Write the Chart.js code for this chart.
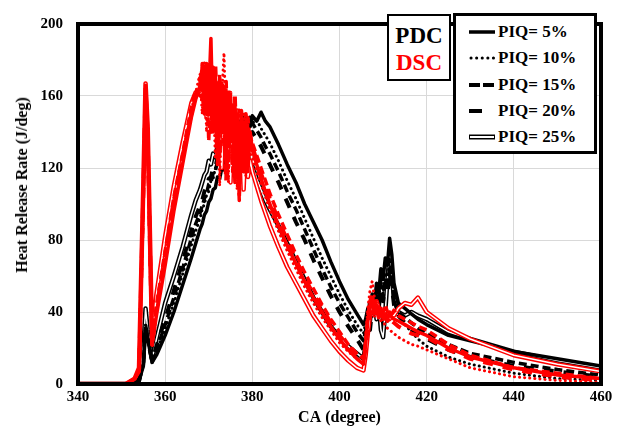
<!DOCTYPE html>
<html lang="en">
<head>
<meta charset="UTF-8">
<title>Heat Release Rate</title>
<script src="https://cdn.jsdelivr.net/npm/chart.js"></script>
<style>
  body { margin: 0; background: #fff; }
  .wrap { position: relative; width: 620px; height: 436px; }
  .box {
    position: absolute; background: #fff; border: 2px solid #000; box-sizing: border-box;
    font-family: 'Liberation Serif', 'Times New Roman', serif; font-weight: bold;
  }
  #srcBox { left: 387px; top: 14px; width: 64px; height: 67px; font-size: 23px; line-height: 27px; text-align: center; padding-top: 6px; }
  #piqBox { left: 453px; top: 13px; width: 144px; height: 141px; border-width: 3px; padding-top: 3px; font-size: 17px; }
  .row { display: flex; align-items: center; height: 26.3px; }
  .row svg { margin-left: 13px; margin-right: 1px; }
  #yTitle {
    position: absolute; left: 22px; top: 185px; white-space: nowrap;
    transform: translate(-50%, -50%) rotate(-90deg);
    font-family: 'Liberation Serif', 'Times New Roman', serif; font-weight: bold; font-size: 16px; color: #000;
  }
</style>
</head>
<body>
<div class="wrap">
  <canvas id="hrr" width="620" height="436"></canvas>
  <div id="yTitle">Heat Release Rate (J/deg)</div>
  <div class="box" id="srcBox"><div style="color:#000">PDC</div><div style="color:#ff0000">DSC</div></div>
  <div class="box" id="piqBox"></div>
</div>
<script>
// crank angle grid (deg) shared by all curves
const ca = [340, 351, 353, 354, 355, 355.5, 356, 357, 358, 360, 362, 364, 366, 367, 368,
  368.5, 369, 369.5, 370, 370.5, 371, 371.5, 372, 372.5, 373, 373.5, 374, 374.5, 375, 375.5,
  376, 376.5, 377, 377.5, 378, 378.5, 379, 379.5, 380, 381, 382, 383, 384, 386, 388,
  390, 392, 394, 396, 398, 400, 402, 404,
  405.5, 406, 406.5, 407, 407.5, 408, 408.5, 409, 409.5, 410, 410.5, 411, 411.5, 412, 412.5,
  413.5, 415, 416.5, 418, 420, 425, 430, 440, 450, 460];

// PDC (black)
const pdc5 = [0,0,1,2,10, 30,25,12,16,27, 40,55,70,78,86, 89,94,96,101,103, 108,109,115,114,120,
  119,125,124,131,129, 135,133,139,137,143, 140,146,143,149,146, 151,146,143,133,122,
  112,100,90,80,68, 57,47,39,
  33,36,42,38,50,44,56,50,64,58,70,66,81,72,56,
  45,42,39,36,33,27,24,18,14,10];
const pdc10 = [0,0,1,2,12, 34,27,13,18,31, 45,61,77,85,92, 97,100,105,107,113, 114,120,121,126,127,
  132,131,136,135,140, 138,143,140,146,142, 148,144,149,145,147, 142,138,134,124,113,
  103,92,81,70,60, 50,41,33,
  28,34,40,36,48,42,52,47,58,50,62,55,70,62,48,
  38,33,29,25,21,15,11,6,3,2];
const pdc15 = [0,0,1,2,11, 33,26,12,19,33, 48,64,81,89,95, 99,103,106,111,112, 117,118,124,124,129,
  130,134,135,139,139, 143,142,146,144,148, 144,147,143,145,141, 137,132,128,118,107,
  97,86,75,64,54, 45,37,29,
  24,30,36,33,44,40,50,44,55,48,58,52,66,58,46,
  40,37,34,31,28,22,17,12,8,5];
const pdc20 = [0,0,1,2,11, 32,24,13,21,36, 52,68,85,93,99, 102,107,109,114,115, 120,120,126,125,131,
  130,135,134,139,137, 141,139,143,140,144, 140,143,139,140,136, 132,127,122,112,101,
  90,80,69,59,49, 40,32,25,
  19,26,33,30,42,38,47,42,52,46,56,50,62,54,44,
  38,34,30,28,25,19,15,10,7,4];
const pdc25 = [0,0,1,2,20, 42,30,14,25,45, 60,76,94,102,108, 112,116,118,124,122, 128,126,132,128,134,
  130,136,131,137,130, 136,128,134,126,131, 122,127,118,121,114, 108,102,97,88,78,
  68,58,48,40,32, 26,21,17,
  14,22,32,45,38,48,36,44,30,26,40,58,72,60,48,
  40,38,40,38,36,29,25,18,13,9];

// DSC (red)
const dsc5 = [0,0,3,8,110, 166,140,22,38,66, 96,122,148,158,166, 176,150,178,160,192, 140,172,125,168,140,
  165,118,160,135,155, 112,150,105,148,122, 146,118,140,130,122, 114,107,100,88,77,
  67,57,48,40,32, 25,19,14,
  11,22,35,44,48,40,44,39,42,37,39,36,40,37,36,
  35,33,31,29,27,20,15,9,5,3];
const dsc10 = [0,0,3,7,100, 160,130,20,40,70, 100,125,152,162,172, 150,176,140,174,155, 170,125,168,110,160,
  184,138,112,158,130, 152,108,146,125,150, 115,142,128,126,118, 111,104,97,85,74,
  64,54,45,37,30, 23,18,14,
  12,26,42,52,57,48,44,38,35,34,33,31,30,29,28,
  26,24,22,21,19,14,9,4,2,1];
const dsc15 = [0,0,3,8,105, 163,135,24,44,74, 104,128,154,163,160, 178,158,172,135,170, 176,150,122,172,150,
  132,168,120,162,118, 158,135,102,152,138, 120,148,132,134,127, 120,113,106,94,83,
  72,62,53,44,36, 29,22,17,
  14,24,38,46,50,42,46,41,43,40,44,40,41,39,41,
  38,36,34,32,30,22,16,9,6,3];
const dsc20 = [0,0,3,7,108, 165,138,21,42,72, 102,126,150,160,170, 158,178,150,172,140, 168,178,145,125,170,
  140,112,165,145,122, 160,115,152,130,118, 150,128,138,132,124, 117,110,103,91,80,
  69,59,50,42,34, 27,21,16,
  13,20,32,40,45,38,42,37,40,36,37,35,38,35,34,
  32,30,28,27,26,19,14,8,4,2];
const dsc25 = [0,0,3,9,112, 167,142,25,50,82, 110,134,156,162,163, 170,174,148,170,158, 145,168,160,135,120,
  162,150,130,112,150, 128,152,118,142,108, 138,115,124,118,110, 102,95,88,76,65,
  56,47,38,31,24, 18,13,9,
  7.5,16,28,38,45,40,46,42,40,37,38,36,36,38,38,
  42,45,44,48,40,31,25,16,11,7];

const piqLabels = ['PIQ= 5%', 'PIQ= 10%', 'PIQ= 15%', 'PIQ= 20%', 'PIQ= 25%'];
const pdcSeries = [pdc5, pdc10, pdc15, pdc20, pdc25];
const dscSeries = [dsc5, dsc10, dsc15, dsc20, dsc25];

const lineStyles = [
  { borderWidth: 3.5, borderDash: [] },
  { borderWidth: 3, borderDash: [0.1, 5], borderCapStyle: 'round' },
  { borderWidth: 3.5, borderDash: [8, 4] },
  { borderWidth: 4, borderDash: [10, 10] },
  { borderWidth: 4.5, borderDash: [], double: true }
];

function pts(vals) {
  return vals.map((v, i) => ({ x: ca[i], y: v }));
}

var datasets = [];
function addGroup(series, color, baseOrder) {
  series.forEach((vals, i) => {
    var st = lineStyles[i];
    datasets.push({
      label: piqLabels[i],
      data: pts(vals),
      borderColor: color,
      borderWidth: st.borderWidth,
      borderDash: st.borderDash,
      borderCapStyle: st.borderCapStyle || 'butt',
      borderJoinStyle: 'round',
      pointRadius: 0,
      tension: 0,
      order: baseOrder + i * 2 + 1
    });
    if (st.double) {
      datasets.push({
        label: piqLabels[i] + ' core',
        data: pts(vals),
        borderColor: '#ffffff',
        borderWidth: 1.5,
        borderJoinStyle: 'round',
        pointRadius: 0,
        tension: 0,
        order: baseOrder + i * 2
      });
    }
  });
}
addGroup(dscSeries, '#ff0000', 0);
addGroup(pdcSeries, '#000000', 20);

var serif = "'Liberation Serif', 'Times New Roman', serif";

var frame = {
  id: 'frame',
  afterDatasetsDraw(chart) {
    var a = chart.chartArea, c = chart.ctx;
    c.save();
    c.strokeStyle = '#000';
    c.lineWidth = 4;
    c.strokeRect(a.left, a.top, a.right - a.left, a.bottom - a.top);
    c.restore();
  }
};

new Chart(document.getElementById('hrr').getContext('2d'), {
  type: 'line',
  data: { datasets: datasets },
  options: {
    responsive: false,
    animation: false,
    layout: { padding: { left: 8, right: 19, top: 11, bottom: 5 } },
    plugins: { legend: { display: false }, tooltip: { enabled: false } },
    scales: {
      x: {
        type: 'linear', min: 340, max: 460,
        ticks: { stepSize: 20, padding: 4, color: '#000', font: { family: serif, size: 15, weight: 'bold' } },
        grid: { color: '#d9d9d9', drawTicks: false },
        border: { display: false },
        title: { display: true, text: 'CA (degree)', color: '#000', padding: 4, font: { family: serif, size: 16, weight: 'bold' } },
        afterFit: function (s) { s.height = 47; }
      },
      y: {
        min: 0, max: 200,
        ticks: { stepSize: 40, padding: 15, color: '#000', font: { family: serif, size: 15, weight: 'bold' } },
        grid: { color: '#d9d9d9', drawTicks: false },
        border: { display: false },
        afterFit: function (s) { s.width = 70; }
      }
    }
  },
  plugins: [frame]
});

// legend box for PIQ line styles
var samples = [
  '<line x1="0" y1="5" x2="26" y2="5" stroke="#000" stroke-width="3.5"/>',
  '<line x1="2" y1="5" x2="26" y2="5" stroke="#000" stroke-width="3" stroke-dasharray="0.1 5.5" stroke-linecap="round"/>',
  '<line x1="0" y1="5" x2="26" y2="5" stroke="#000" stroke-width="4" stroke-dasharray="11 3"/>',
  '<line x1="0" y1="5" x2="13" y2="5" stroke="#000" stroke-width="4"/>',
  '<line x1="0" y1="5" x2="26" y2="5" stroke="#000" stroke-width="5"/><line x1="1" y1="5" x2="25" y2="5" stroke="#fff" stroke-width="2"/>'
];
var box = document.getElementById('piqBox');
piqLabels.forEach(function (lab, i) {
  var row = document.createElement('div');
  row.className = 'row';
  row.innerHTML = '<svg width="28" height="10">' + samples[i] + '</svg><span>' + lab + '</span>';
  box.appendChild(row);
});
</script>
</body>
</html>
